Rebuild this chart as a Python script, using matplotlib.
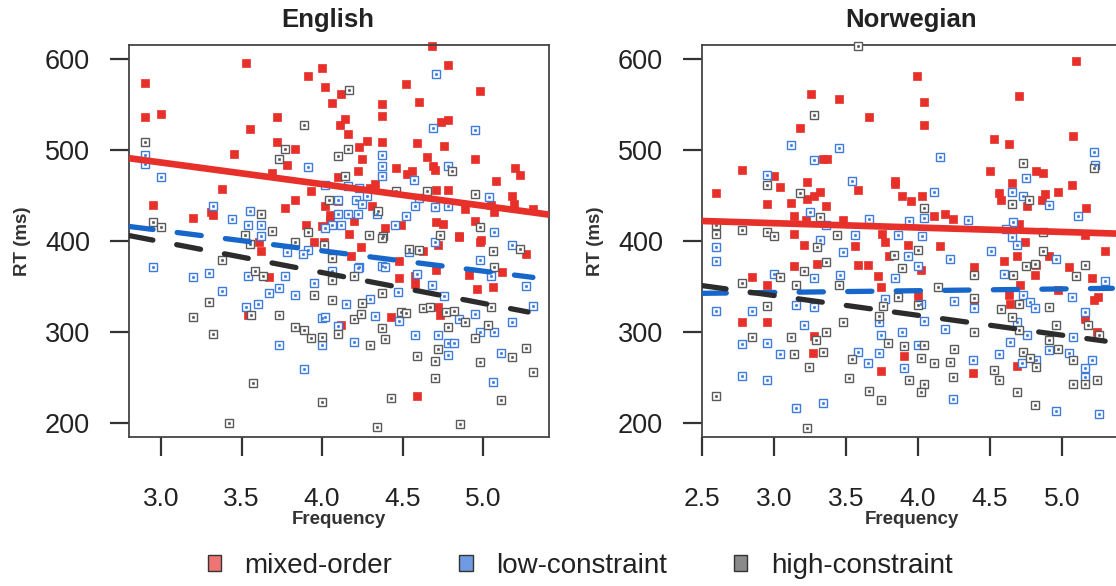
import matplotlib
matplotlib.use("Agg")
import matplotlib.pyplot as plt
from matplotlib.patches import Patch

plt.rcParams['font.family'] = ['Liberation Sans', 'DejaVu Sans']

# ---------------- data (frequency, RT in ms) ----------------
eng_mixed = [(2.90,574),(2.90,536),(3.00,540),(3.53,596),(3.55,523),(3.45,496),(3.38,457),(2.95,440),(3.20,425),(3.31,432),
    (3.32,429),(3.91,581),(4.00,590),(4.02,569),(4.06,552),(4.12,562),(4.14,534),(4.11,527),(4.16,518),(3.72,536),
    (3.72,509),(3.83,501),(3.78,484),(3.69,475),(3.93,455),(3.83,445),(3.77,436),(4.02,439),(4.23,503),(4.25,490),
    (4.28,510),(4.22,477),(4.10,470),(4.37,551),(4.37,537),(4.37,509),(4.52,572),(4.60,553),(4.59,508),(4.46,480),
    (4.53,474),(4.56,477),(4.65,492),(4.69,482),(4.70,478),(4.76,504),(4.74,531),(4.78,533),(4.78,593),(4.68,614),
    (4.98,565),(4.95,490),(4.71,456),(4.78,456),(5.08,466),(5.20,480),(5.23,473),(5.18,449),(5.19,441),(5.31,435),
    (5.07,432),(5.05,440),(4.89,435),(4.31,438),(4.33,463),(4.30,458),(4.10,444),(4.05,429),(4.05,423),(4.20,422),
    (4.71,421),(4.75,419),(4.95,422),(4.39,414),(4.17,408),(4.00,416),(3.90,418),(4.49,418),(4.85,405),(4.99,401),
    (3.62,389),(3.61,399),(3.95,399),(4.01,399),(4.18,384),(4.24,393),(4.48,378),(4.48,359),(4.58,361),(4.58,353),
    (4.63,389),(4.72,396),(4.85,404),(4.98,399),(5.27,386),(5.12,366),(5.06,349),(4.96,347),(4.91,363),(4.71,368),
    (4.43,316),(4.12,308),(3.67,360),(3.54,319),(4.59,230),(4.73,319),(4.72,328)]

eng_low = [(2.95,371),(3.20,360),(3.30,365),(3.38,345),(3.53,328),(3.60,331),(3.54,362),(3.67,343),(3.73,348),(3.77,362),
    (3.83,341),(3.95,354),(4.00,315),(4.02,317),(4.00,286),(3.73,286),(3.89,259),(4.10,307),(4.15,331),(4.20,289),
    (4.30,336),(4.33,318),(4.23,371),(4.37,373),(4.47,344),(4.48,312),(4.58,297),(4.59,364),(4.68,352),(4.76,340),
    (4.72,297),(4.78,288),(4.82,288),(4.78,275),(4.85,314),(4.95,320),(4.98,300),(5.07,300),(5.11,277),(5.06,245),
    (5.18,311),(5.31,329),(5.27,350),(5.05,361),(4.98,379),(5.18,396),(4.54,388),(4.70,399),(4.39,371),(3.91,390),
    (3.78,388),(3.88,386),(4.06,367),(4.22,370),
    (2.90,495),(2.90,485),(3.00,470),(3.32,439),(3.44,424),(3.55,433),(3.62,418),(3.54,418),(3.91,481),(4.02,462),
    (4.10,445),(4.16,460),(4.23,458),(4.21,445),(4.28,449),(4.25,441),(4.10,430),(4.16,430),(4.22,430),(4.37,494),
    (4.37,482),(4.37,471),(4.34,430),(4.52,427),(4.45,418),(4.57,467),(4.60,447),(4.58,438),(4.70,437),(4.78,438),
    (4.78,482),(4.69,524),(4.71,584),(4.95,522),(5.04,448),(5.07,410),(4.06,418),(4.12,418),(4.02,414),(3.62,405)]

eng_high = [(2.90,509),(4.17,566),(3.89,527),(3.77,501),(3.73,490),(4.16,501),(4.10,493),(4.14,471),(4.46,455),(4.65,455),
    (4.81,477),(4.95,452),(4.98,415),(2.95,421),(3.00,415),(3.62,430),(3.69,411),(3.91,410),(4.04,445),(4.35,433),
    (4.38,405),(4.29,407),(4.73,407),(3.52,407),
    (3.38,379),(3.30,333),(3.20,316),(3.32,298),(3.58,367),(3.63,362),(3.73,319),(3.83,305),(3.89,302),(3.93,293),
    (4.00,295),(3.95,341),(4.06,335),(4.10,298),(4.20,314),(4.24,320),(4.25,332),(4.37,343),(4.37,304),(4.39,292),
    (4.30,286),(4.49,322),(4.52,321),(4.54,391),(4.60,390),(4.63,326),(4.67,327),(4.77,322),(4.82,323),(4.78,305),
    (4.72,281),(4.59,274),(4.70,268),(4.70,249),(4.89,311),(4.95,293),(4.98,267),(5.03,308),(5.05,328),(5.07,371),
    (5.06,389),(5.23,391),(5.18,273),(5.27,282),(5.31,256),(5.11,225),(4.86,199),(4.34,196),(4.43,227),(4.00,223),
    (3.57,244),(3.42,200),(4.06,381),(4.06,357),(4.20,361),(4.37,403),(4.01,396),(3.83,399),(3.55,397),(3.56,319)]

nor_mixed = [(2.60,453),(2.78,478),(3.00,471),(3.04,459),(2.95,441),(3.12,442),(3.18,524),(3.26,562),(3.45,556),(3.66,536),
    (3.34,490),(3.37,490),(3.23,465),(3.32,454),(3.28,449),(3.23,446),(3.36,438),(3.58,456),(3.54,466),(3.14,427),
    (3.22,423),(3.14,408),(3.48,423),(3.84,466),(3.84,463),(3.89,450),(3.95,444),(4.03,449),(3.99,581),(4.04,553),
    (4.04,527),(4.11,427),(4.19,430),(4.24,424),(3.75,408),(4.53,512),(4.63,507),(4.50,477),(4.70,559),(4.56,453),
    (4.58,445),(4.65,464),(4.70,419),(4.76,438),(4.82,477),(4.87,475),(4.88,452),(4.86,445),(4.97,454),(5.07,461),
    (5.17,436),(5.08,515),(5.10,598),(5.16,407),
    (2.85,360),(2.78,311),(2.95,352),(2.95,311),(3.14,372),(3.21,396),(3.28,296),(3.30,375),(3.27,277),(3.56,394),
    (3.58,374),(3.65,374),(3.72,361),(3.74,349),(3.80,384),(3.77,399),(3.93,396),(4.02,368),(4.00,340),(3.90,274),
    (3.74,257),(4.15,394),(4.39,371),(4.38,255),(4.60,378),(4.63,341),(4.64,331),(4.69,384),(4.71,352),(4.74,399),
    (4.81,363),(4.82,374),(4.91,384),(5.05,371),(5.21,359),(5.22,335),(5.25,339),(5.16,320),(5.16,314),(5.24,300),
    (5.30,389),(4.69,263),(4.97,346),(4.39,331)]

nor_low = [(3.12,506),(3.45,502),(3.28,489),(2.95,473),(3.54,466),(3.25,432),(3.36,418),(3.66,424),(3.94,422),(4.04,425),
    (4.11,454),(4.15,492),(4.65,454),(4.73,449),(4.75,469),(4.91,440),(5.11,427),(5.22,498),(5.23,483),(4.66,421),
    (4.61,413),(3.56,407),(3.86,407),(4.03,405),(4.35,423),
    (2.60,393),(2.60,378),(2.60,323),(2.85,323),(2.78,287),(2.78,252),(2.95,288),(2.95,247),(3.00,364),(3.04,276),
    (3.15,330),(3.21,308),(3.15,216),(3.28,359),(3.28,327),(3.32,401),(3.34,222),(3.46,363),(3.48,388),(3.58,278),
    (3.65,266),(3.73,311),(3.74,297),(3.73,277),(3.90,260),(3.89,300),(4.00,286),(4.04,312),(4.02,331),(3.93,383),
    (4.00,372),(4.22,380),(4.25,334),(4.19,303),(4.24,226),(4.39,326),(4.38,269),(4.51,389),(4.60,364),(4.69,311),
    (4.64,289),(4.56,276),(4.73,341),(4.78,333),(4.81,326),(4.76,297),(4.72,266),(4.82,269),(4.91,280),(4.96,380),
    (4.96,213),(5.07,338),(5.08,295),(5.05,277),(5.21,269),(5.16,260),(5.16,251),(5.26,210),(5.30,356),(5.16,322),
    (3.84,359),(3.77,336),(4.65,404),(4.69,396)]

nor_high = [(3.58,614),(3.28,538),(2.95,461),(3.18,453),(3.32,426),(4.04,436),(4.73,486),(4.65,441),(4.77,445),(5.22,480),
    (2.60,418),(2.60,408),(2.78,412),(2.95,410),(3.00,405),(4.87,410),(3.44,407),
    (2.60,230),(2.78,354),(2.85,295),(2.95,329),(3.04,360),(3.12,295),(3.15,352),(3.14,276),(3.21,367),(3.24,262),
    (3.23,195),(3.30,393),(3.36,300),(3.34,278),(3.29,291),(3.36,377),(3.45,352),(3.48,311),(3.52,249),(3.54,270),
    (3.66,235),(3.74,225),(3.73,318),(3.76,329),(3.79,288),(3.83,385),(3.89,370),(3.90,285),(3.86,339),(4.00,390),
    (4.00,330),(3.94,247),(4.02,271),(4.04,286),(4.04,243),(4.02,234),(4.11,266),(4.14,349),(4.22,267),(4.24,250),
    (4.25,281),(4.39,363),(4.39,337),(4.39,300),(4.53,258),(4.56,247),(4.58,325),(4.65,317),(4.66,363),(4.70,331),
    (4.70,302),(4.73,278),(4.75,372),(4.81,375),(4.82,262),(4.78,271),(4.69,234),(4.81,220),(4.87,389),(4.91,328),
    (4.91,291),(4.96,308),(4.97,281),(5.08,243),(5.10,361),(5.16,374),(5.16,243),(5.18,308),(5.24,247),(5.26,297),
    (5.08,269)]

# fitted lines (start/end frequency and RT)
eng_fit_x = {'mixed': [2.80, 5.41], 'low': [2.80, 5.31], 'high': [2.80, 5.28]}
eng_fit_y = {'mixed': [491, 429], 'low': [416, 360], 'high': [406, 322]}
nor_fit_x = {'mixed': [2.50, 5.41], 'low': [2.50, 5.35], 'high': [2.50, 5.30]}
nor_fit_y = {'mixed': [422, 408], 'low': [342.5, 348], 'high': [351, 290]}

panel_titles = ['English', 'Norwegian']
eng_xticks = [3.0, 3.5, 4.0, 4.5, 5.0]
nor_xticks = [2.5, 3.0, 3.5, 4.0, 4.5, 5.0]
yticks = [200, 300, 400, 500, 600]
legend_labels = ['mixed-order', 'low-constraint', 'high-constraint']

# ---------------- styling ----------------
RED = '#e8302a'
BLUE_PT = '#3d7bdc'
GRAY_PT = '#5a5a5a'
BLUE_LN = '#1766c9'
BLACK_LN = '#2c2c2c'

W, H = 1116, 586
fig = plt.figure(figsize=(W / 100, H / 100), dpi=100)

def px_axes(x0, y0, x1, y1):
    return fig.add_axes([x0 / W, 1 - y1 / H, (x1 - x0) / W, (y1 - y0) / H])

ax1 = px_axes(129, 45, 549, 437)
ax2 = px_axes(702, 45, 1121, 437)

def draw_points(ax, pts, kind):
    xs = [p[0] for p in pts]
    ys = [p[1] for p in pts]
    if kind == 'mixed':
        ax.plot(xs, ys, ls='none', marker='s', ms=5.4, mfc=RED, mec=RED, mew=0.5, zorder=2, clip_on=False)
    else:
        c = BLUE_PT if kind == 'low' else GRAY_PT
        ax.plot(xs, ys, ls='none', marker='s', ms=5.3, mfc='white', mec=c, mew=1.0, zorder=3, clip_on=False)
        ax.plot(xs, ys, ls='none', marker='o', ms=1.9, mfc=c, mec=c, mew=0.3, zorder=3.1, clip_on=False)

def draw_fits(ax, fx, fy):
    ax.plot(fx['mixed'], fy['mixed'], color=RED, lw=4.8, solid_capstyle='butt', zorder=4)
    ax.plot(fx['low'], fy['low'], color=BLUE_LN, lw=3.8, dashes=(4.6, 4.6),
            dash_capstyle='round', zorder=5)
    ax.plot(fx['high'], fy['high'], color=BLACK_LN, lw=3.8, dashes=(4.6, 4.6),
            dash_capstyle='round', zorder=5)

panels = [
    (ax1, eng_mixed, eng_low, eng_high, eng_fit_x, eng_fit_y, eng_xticks, (2.80, 5.41)),
    (ax2, nor_mixed, nor_low, nor_high, nor_fit_x, nor_fit_y, nor_xticks, (2.50, 5.41)),
]

for i, (ax, pm, pl, ph, fx, fy, xt, xl) in enumerate(panels):
    draw_points(ax, pm, 'mixed')
    draw_points(ax, pl, 'low')
    draw_points(ax, ph, 'high')
    draw_fits(ax, fx, fy)
    ax.set_xlim(*xl)
    ax.set_ylim(184.6, 615.4)
    ax.set_xticks(xt)
    ax.set_xticklabels([f'{v:.1f}' for v in xt])
    ax.set_yticks(yticks)
    ax.tick_params(axis='x', length=14, width=1.6, pad=22, labelsize=19, colors='#333333',
                   labelcolor='#222222', direction='out')
    ax.tick_params(axis='y', length=14, width=1.6, pad=14, labelsize=19.5, colors='#333333',
                   labelcolor='#222222', direction='out')
    for s in ax.spines.values():
        s.set_linewidth(1.3)
        s.set_color('#444444')
    ax.set_xlabel('Frequency', fontsize=13.5, fontweight='bold', color='#333333', labelpad=0)
    ax.set_ylabel('RT (ms)', fontsize=13.5, fontweight='bold', color='#333333', labelpad=10)

fig.text(328 / W, 1 - 20 / H, panel_titles[0], ha='center', va='center',
         fontsize=18.5, fontweight='bold', color='#222222')
fig.text(911 / W, 1 - 20 / H, panel_titles[1], ha='center', va='center',
         fontsize=18.5, fontweight='bold', color='#222222')

handles = [Patch(facecolor='#ef7474', edgecolor='#333333', lw=1.0),
           Patch(facecolor='#6f9be3', edgecolor='#333333', lw=1.0),
           Patch(facecolor='#8a8a8a', edgecolor='#333333', lw=1.0)]
fig.legend(handles, legend_labels, loc='center', bbox_to_anchor=(580 / W, 1 - 566 / H),
           ncol=3, frameon=False, fontsize=20, handlelength=0.48, handleheight=0.48,
           handletextpad=0.85, columnspacing=2.4, labelcolor='#222222')

fig.savefig('out.png', dpi=100)
